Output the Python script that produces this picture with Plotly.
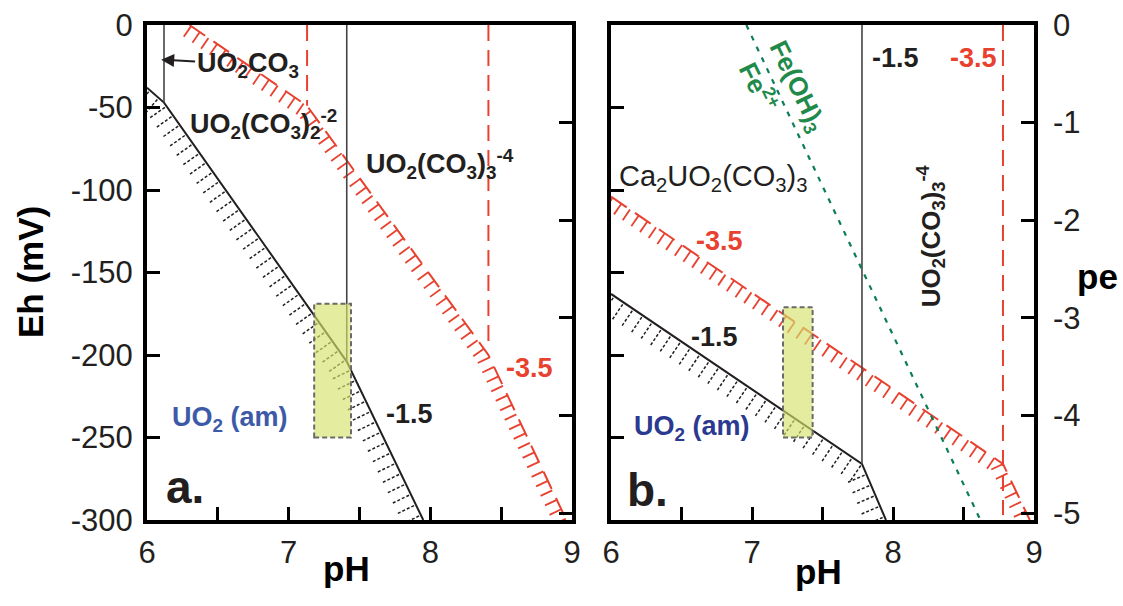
import plotly.graph_objects as go

# ---------------- data ----------------
# panel a (log CO3 activity -1.5 black, -3.5 red)
a_black_ph = [6.0, 6.12, 7.41, 7.95]
a_black_eh = [-38, -47, -204, -300]
a_red_ph = [6.3, 7.13, 8.41, 8.96]
a_red_eh = [0, -49, -200, -300]
a_vblack_ph = [6.12, 7.41]
a_vblack_end = [-47, -204]
a_vred_ph = [7.13, 8.41]
a_vred_end = [-49, -193]
a_box_ph = [7.18, 7.44]
a_box_eh = [-250, -169]

# panel b
b_black_ph = [6.0, 7.78, 7.95]
b_black_eh = [-163, -266, -300]
b_red_ph = [6.0, 8.78, 8.97]
b_red_eh = [-104, -266, -300]
b_vblack_ph = [7.78]
b_vblack_end = [-266]
b_vred_ph = [8.78]
b_vred_end = [-297]
b_fe_ph = [6.96, 8.62]
b_fe_eh = [0, -300]
b_box_ph = [7.22, 7.43]
b_box_eh = [-250, -171]

eh_ticks = [0, -50, -100, -150, -200, -250, -300]
pe_ticks = [0, -1, -2, -3, -4, -5]
ph_ticks = [6, 7, 8, 9]
PE_MV = 59.16

# ---------------- layout geometry ----------------
W, H = 1123, 606
A_L, A_R = 147, 572
B_L, B_R = 611, 1034
TOP, BOT = 25, 520
PH0, PH1 = 6, 9
EH0, EH1 = -300, 0

BLACK = "#231f20"
RED = "#e8412f"
GREEN_L = "#0b7d57"
GREEN_T = "#1f8a4a"
FONT = "Liberation Sans"
LSIZE = 27


def hatch(xs, ys, kx, ky, spacing, length, offset=0.0, start=4.0):
    """Perpendicular tick marks on the lower-left side of a polyline."""
    px = [(x - PH0) * kx for x in xs]
    py = [y * ky for y in ys]
    ox, oy = [], []
    carry = start
    for i in range(len(px) - 1):
        dx, dy = px[i + 1] - px[i], py[i + 1] - py[i]
        seg = (dx * dx + dy * dy) ** 0.5
        ux, uy = dx / seg, dy / seg
        nx, ny = uy, -ux  # lower-left normal
        s = carry
        while s <= seg:
            bx, by = px[i] + ux * s, py[i] + uy * s
            x1, y1 = bx + nx * offset, by + ny * offset
            x2, y2 = bx + nx * (offset + length), by + ny * (offset + length)
            ox += [x1 / kx + PH0, x2 / kx + PH0, None]
            oy += [y1 / ky, y2 / ky, None]
            s += spacing
        carry = s - seg
    return ox, oy


fig = go.Figure()

KY = (BOT - TOP) / (EH1 - EH0)


def panel(xa, ya, kx, blk_ph, blk_eh, red_ph, red_eh, vb_ph, vb_end, vr_ph, vr_end, box_ph, box_eh):
    hx, hy = hatch(blk_ph, blk_eh, kx, KY, 11.5, 19, offset=2)
    fig.add_trace(go.Scatter(x=hx, y=hy, mode="lines", xaxis=xa, yaxis=ya,
                             line=dict(color=BLACK, width=1.5, dash="3px,2px"),
                             hoverinfo="skip", showlegend=False))
    rx, ry = hatch(red_ph, red_eh, kx, KY, 10.5, 13, offset=0, start=2)
    fig.add_trace(go.Scatter(x=rx, y=ry, mode="lines", xaxis=xa, yaxis=ya,
                             line=dict(color=RED, width=1.8),
                             hoverinfo="skip", showlegend=False))
    fig.add_trace(go.Scatter(x=red_ph, y=red_eh, mode="lines", xaxis=xa, yaxis=ya,
                             line=dict(color=RED, width=2, dash="19px,10px"),
                             hoverinfo="skip", showlegend=False))
    fig.add_trace(go.Scatter(x=blk_ph, y=blk_eh, mode="lines", xaxis=xa, yaxis=ya,
                             line=dict(color=BLACK, width=2),
                             hoverinfo="skip", showlegend=False))
    for p, e in zip(vb_ph, vb_end):
        fig.add_trace(go.Scatter(x=[p, p], y=[0, e], mode="lines", xaxis=xa, yaxis=ya,
                                 line=dict(color="#444444", width=1.6),
                                 hoverinfo="skip", showlegend=False))
    for p, e in zip(vr_ph, vr_end):
        fig.add_trace(go.Scatter(x=[p, p], y=[0, e], mode="lines", xaxis=xa, yaxis=ya,
                                 line=dict(color=RED, width=2, dash="16px,9px"),
                                 hoverinfo="skip", showlegend=False))
    fig.add_shape(type="rect", xref=xa, yref=ya, x0=box_ph[0], x1=box_ph[1],
                  y0=box_eh[0], y1=box_eh[1], layer="above",
                  fillcolor="rgba(214,228,108,0.65)",
                  line=dict(color="#6a6a6a", width=2, dash="5px,3px"))


panel("x", "y", (A_R - A_L) / 3, a_black_ph, a_black_eh, a_red_ph, a_red_eh,
      a_vblack_ph, a_vblack_end, a_vred_ph, a_vred_end, a_box_ph, a_box_eh)
panel("x2", "y2", (B_R - B_L) / 3, b_black_ph, b_black_eh, b_red_ph, b_red_eh,
      b_vblack_ph, b_vblack_end, b_vred_ph, b_vred_end, b_box_ph, b_box_eh)

fig.add_trace(go.Scatter(x=b_fe_ph, y=b_fe_eh, mode="lines", xaxis="x2", yaxis="y2",
                         line=dict(color=GREEN_L, width=2.2, dash="5px,7px"),
                         hoverinfo="skip", showlegend=False))
# dummy traces for the pe axes
fig.add_trace(go.Scatter(x=[None], y=[None], xaxis="x", yaxis="y3", showlegend=False))
fig.add_trace(go.Scatter(x=[None], y=[None], xaxis="x2", yaxis="y4", showlegend=False))

# ---------------- axes ----------------
ydom = [1 - BOT / H, 1 - TOP / H]
tickfont = dict(family=FONT, size=31, color=BLACK)
frame = dict(showline=True, linewidth=4, linecolor="black", mirror=True,
             showgrid=False, zeroline=False, ticks="inside", ticklen=13,
             tickwidth=3, tickcolor="black", tickfont=tickfont, automargin=False)


def xax(dom):
    return dict(domain=dom, range=[PH0, PH1], tickvals=ph_ticks,
                ticktext=[str(v) for v in ph_ticks],
                minor=dict(dtick=0.5, ticks="inside", ticklen=13, tickwidth=3,
                           tickcolor="black", showgrid=False),
                ticklabelstandoff=2, **frame)


fig.update_layout(
    width=W, height=H, margin=dict(l=0, r=0, t=0, b=0, autoexpand=False),
    paper_bgcolor="white", plot_bgcolor="white", showlegend=False,
    xaxis=xax([A_L / W, A_R / W]),
    xaxis2=dict(anchor="y2", **xax([B_L / W, B_R / W])),
    yaxis=dict(domain=ydom, range=[EH0, EH1], tickvals=eh_ticks,
               ticktext=[str(v) for v in eh_ticks], ticklabelstandoff=4, anchor="x", **frame),
    yaxis2=dict(domain=ydom, range=[EH0, EH1], tickvals=eh_ticks,
                showticklabels=False, anchor="x2", **frame),
    yaxis3=dict(overlaying="y", side="right", anchor="x", automargin=False,
                range=[EH0 / PE_MV, EH1 / PE_MV], tickvals=pe_ticks,
                showticklabels=False, showline=False, showgrid=False, zeroline=False,
                ticks="inside", ticklen=13, tickwidth=3, tickcolor="black"),
    yaxis4=dict(overlaying="y2", side="right", anchor="x2", automargin=False,
                range=[EH0 / PE_MV, EH1 / PE_MV], tickvals=pe_ticks,
                ticktext=[str(v) for v in pe_ticks], tickfont=tickfont,
                ticklabelstandoff=18,
                showline=False, showgrid=False, zeroline=False,
                ticks="inside", ticklen=13, tickwidth=3, tickcolor="black"),
)

# ---------------- text ----------------
def label(text, x, y, xa, ya, size=LSIZE, color=BLACK, bold=True, xanchor="left", angle=0):
    t = f"<b>{text}</b>" if bold else text
    fig.add_annotation(text=t, x=x, y=y, xref=xa, yref=ya, showarrow=False,
                       xanchor=xanchor, yanchor="middle", textangle=angle,
                       font=dict(family=FONT, size=size, color=color))


# panel a
fig.add_annotation(text="<b>UO<sub>2</sub>CO<sub>3</sub></b>", x=6.1, y=-21, xref="x", yref="y",
                   ax=6.71, ay=-24, axref="x", ayref="y", showarrow=True,
                   arrowhead=2, arrowsize=1.3, arrowwidth=2, arrowcolor=BLACK,
                   font=dict(family=FONT, size=LSIZE, color=BLACK))
label("UO<sub>2</sub>(CO<sub>3</sub>)<sub>2</sub><sup>-2</sup>", 6.29, -60, "x", "y")
label("UO<sub>2</sub>(CO<sub>3</sub>)<sub>3</sub><sup>-4</sup>", 7.53, -84, "x", "y")
label("UO<sub>2</sub> (am)", 6.16, -239, "x", "y", color="#3d5aa8")
label("-1.5", 7.67, -236, "x", "y")
label("-3.5", 8.52, -208, "x", "y", color=RED)
label("a.", 6.12, -280, "x", "y", size=46)

# panel b
label("-1.5", 7.84, -20, "x2", "y2")
label("-3.5", 8.39, -20, "x2", "y2", color=RED)
label("Ca<sub>2</sub>UO<sub>2</sub>(CO<sub>3</sub>)<sub>3</sub>", 6.04, -93, "x2", "y2", bold=False, size=29)
label("-3.5", 6.59, -131, "x2", "y2", color=RED)
label("-1.5", 6.55, -189, "x2", "y2")
label("UO<sub>2</sub> (am)", 6.15, -244, "x2", "y2", color="#2b3990")
label("b.", 6.1, -282, "x2", "y2", size=46)
label("UO<sub>2</sub>(CO<sub>3</sub>)<sub>3</sub><sup>-4</sup>", 8.27, -128, "x2", "y2",
      xanchor="center", angle=-90, size=26)
label("Fe(OH)<sub>3</sub>", 7.32, -37, "x2", "y2", color=GREEN_T, xanchor="center", angle=64, size=26)
label("Fe<sup>2+</sup>", 7.05, -37, "x2", "y2", color=GREEN_T, xanchor="center", angle=64, size=26)

# axis titles
def ptitle(text, x, y, angle=0, size=35):
    fig.add_annotation(text=f"<b>{text}</b>", x=x / W, y=1 - y / H, xref="paper", yref="paper",
                       showarrow=False, xanchor="center", yanchor="middle", textangle=angle,
                       font=dict(family=FONT, size=size, color="black"))


ptitle("Eh (mV)", 30, 272, angle=-90)
ptitle("pH", 346, 568)
ptitle("pH", 818, 571)
ptitle("pe", 1097, 276)

fig.write_html("out.html", config={"displayModeBar": False},
               post_script="document.body.style.margin='0px';")
